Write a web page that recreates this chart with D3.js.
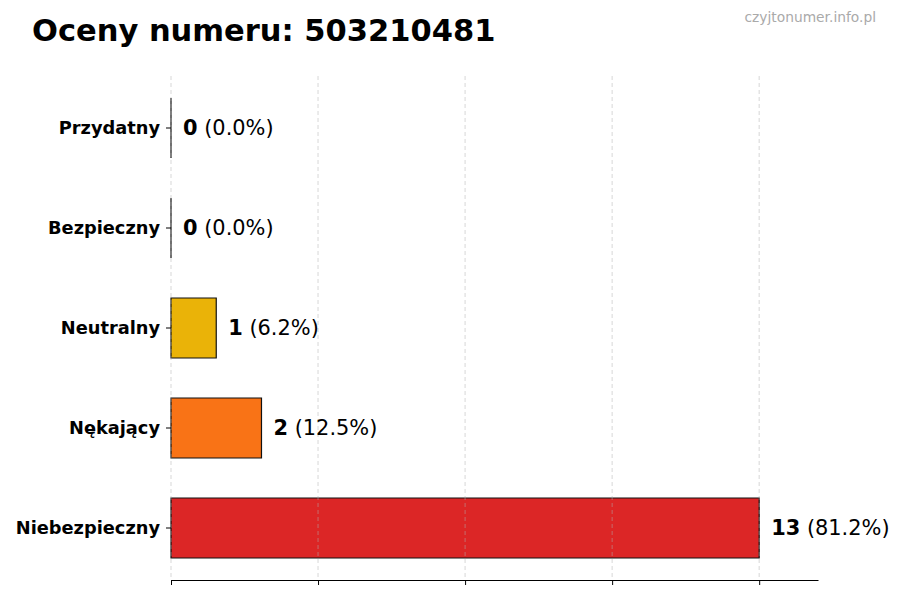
<!DOCTYPE html>
<html>
<head>
<meta charset="utf-8">
<script src="https://cdn.jsdelivr.net/npm/d3@7"></script>
<style>
  body { margin: 0; background: #fff; }
  text { font-family: "DejaVu Sans", sans-serif; }
</style>
</head>
<body>
<script>
let width = 900
let height = 600

// data
let categories = ['Przydatny', 'Bezpieczny', 'Neutralny', 'Nękający', 'Niebezpieczny']
let counts = [0, 0, 1, 2, 13]
let percents = ['0.0%', '0.0%', '6.2%', '12.5%', '81.2%']
let colors = ['#22c55e', '#3b82f6', '#eab308', '#f97316', '#dc2626']
let gridTicks = [0, 3.25, 6.5, 9.75, 13]
let total = 13

let svg = d3.select('body').append('svg')
  .attr('width', width)
  .attr('height', height)

let x = d3.scaleLinear()
  .domain([0, total * 1.1])
  .range([171, 818])

let y = d3.scaleBand()
  .domain(categories)
  .range([78, 578])
  .paddingInner(0.4)
  .paddingOuter(0.2)

// title + watermark
svg.append('text')
  .attr('x', 32)
  .attr('y', 41)
  .style('font-size', '30.5px')
  .style('font-weight', 'bold')
  .text('Oceny numeru: 503210481')

svg.append('text')
  .attr('x', 876)
  .attr('y', 22)
  .attr('text-anchor', 'end')
  .style('font-size', '13.8px')
  .style('fill', '#aaaaaa')
  .text('czyjtonumer.info.pl')

// bars as paths so zero-width bars still show their outline
svg.selectAll('path.bar')
  .data(categories)
  .enter().append('path')
  .attr('class', 'bar')
  .attr('d', (d, i) => {
    let x0 = x(0), x1 = x(counts[i]), y0 = y(d), h = y.bandwidth()
    return 'M' + x0 + ',' + y0 + 'H' + x1 + 'V' + (y0 + h) + 'H' + x0 + 'Z'
  })
  .style('fill', (d, i) => colors[i])
  .style('stroke', '#111')
  .style('stroke-width', 1.2)

// grid on top
svg.selectAll('line.grid')
  .data(gridTicks)
  .enter().append('line')
  .attr('class', 'grid')
  .attr('x1', d => x(d))
  .attr('x2', d => x(d))
  .attr('y1', 76)
  .attr('y2', 580)
  .style('stroke', '#b0b0b0')
  .style('stroke-opacity', 0.5)
  .style('stroke-dasharray', '4,3')
  .style('stroke-width', 1)

// x axis
let xAxis = svg.append('g')
  .attr('transform', 'translate(0,580)')
  .call(d3.axisBottom(x).tickValues(gridTicks).tickFormat('').tickSizeInner(5).tickSizeOuter(0))
xAxis.select('.domain').style('stroke', '#000')

// y axis (ticks only)
let yAxis = svg.append('g')
  .attr('transform', 'translate(171,0)')
  .call(d3.axisLeft(y).tickSize(5).tickPadding(6))
yAxis.select('.domain').remove()
yAxis.selectAll('text')
  .style('font-size', '17.8px')
  .style('font-weight', 'bold')
  .style('fill', '#000')
  .attr('dy', '0.35em')

// value labels
let labels = svg.selectAll('text.val')
  .data(categories)
  .enter().append('text')
  .attr('class', 'val')
  .attr('x', (d, i) => x(counts[i]) + 12)
  .attr('y', d => y(d) + y.bandwidth() / 2)
  .attr('dy', '0.35em')
  .style('font-size', '20.9px')

labels.append('tspan')
  .style('font-weight', 'bold')
  .text((d, i) => counts[i])

labels.append('tspan')
  .text((d, i) => ' (' + percents[i] + ')')
</script>
</body>
</html>
